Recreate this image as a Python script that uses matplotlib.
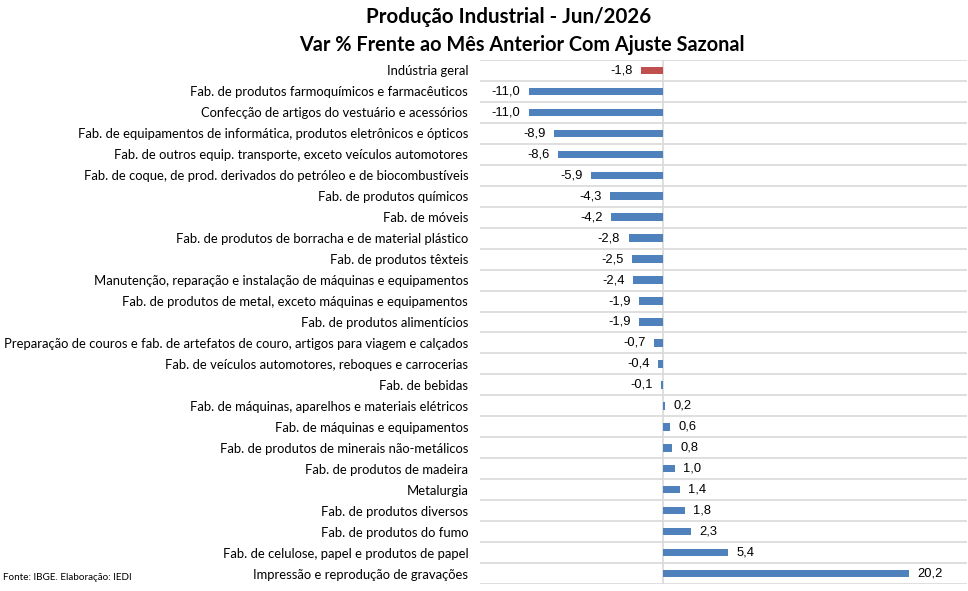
import numpy as np
import matplotlib.pyplot as plt

categorias = [
    "Indústria geral",
    "Fab. de produtos farmoquímicos e farmacêuticos",
    "Confecção de artigos do vestuário e acessórios",
    "Fab. de equipamentos de informática, produtos eletrônicos e ópticos",
    "Fab. de outros equip. transporte, exceto veículos automotores",
    "Fab. de coque, de prod. derivados do petróleo e de biocombustíveis",
    "Fab. de produtos químicos",
    "Fab. de móveis",
    "Fab. de produtos de borracha e de material plástico",
    "Fab. de produtos têxteis",
    "Manutenção, reparação e instalação de máquinas e equipamentos",
    "Fab. de produtos de metal, exceto máquinas e equipamentos",
    "Fab. de produtos alimentícios",
    "Preparação de couros e fab. de artefatos de couro, artigos para viagem e calçados",
    "Fab. de veículos automotores, reboques e carrocerias",
    "Fab. de bebidas",
    "Fab. de máquinas, aparelhos e materiais elétricos",
    "Fab. de máquinas e equipamentos",
    "Fab. de produtos de minerais não-metálicos",
    "Fab. de produtos de madeira",
    "Metalurgia",
    "Fab. de produtos diversos",
    "Fab. de produtos do fumo",
    "Fab. de celulose, papel e produtos de papel",
    "Impressão e reprodução de gravações",
]
valores = [-1.8, -11.0, -11.0, -8.9, -8.6, -5.9, -4.3, -4.2, -2.8, -2.5, -2.4,
           -1.9, -1.9, -0.7, -0.4, -0.1, 0.2, 0.6, 0.8, 1.0, 1.4, 1.8, 2.3,
           5.4, 20.2]

azul = '#4F81BD'
vermelho = '#C0504D'

fig = plt.figure(figsize=(9.68, 5.91), dpi=100)
ax = fig.add_axes([480 / 968, 1 - 584 / 591, 487 / 968, 524 / 591])

y = np.arange(len(categorias))
cores = [vermelho] + [azul] * (len(categorias) - 1)
ax.barh(y, valores, height=0.36, color=cores, zorder=3)

ax.set_xlim(-15, 25)
ax.set_ylim(len(categorias) - 0.5, -0.5)

# linhas horizontais entre as categorias
for b in np.arange(-0.5, len(categorias), 1):
    ax.axhline(b, color='#D9D9D9', linewidth=1.2, zorder=1)
ax.axvline(0, color='#D9D9D9', linewidth=1.2, zorder=2)

for s in ax.spines.values():
    s.set_visible(False)
ax.set_xticks([])
ax.set_yticks(y)
ax.set_yticklabels(categorias, family='Lato', fontsize=9.35)
ax.tick_params(axis='y', length=0, pad=8.5)

# rótulos de valores
for yi, v in zip(y, valores):
    txt = f"{v:.1f}".replace('.', ',')
    if v < 0:
        ax.annotate(txt, (v, yi), xytext=(-6, 0), textcoords='offset points',
                    ha='right', va='center', fontsize=9.3, family='Liberation Sans')
    else:
        ax.annotate(txt, (v, yi), xytext=(6, 0), textcoords='offset points',
                    ha='left', va='center', fontsize=9.3, family='Liberation Sans')

fig.text(509 / 968, 1 - 17 / 591, "Produção Industrial - Jun/2026", ha='center',
         va='center', fontsize=14.8, fontweight='bold', family='Lato')
fig.text(522 / 968, 1 - 45 / 591, "Var % Frente ao Mês Anterior Com Ajuste Sazonal",
         ha='center', va='center', fontsize=14.3, fontweight='bold', family='Lato')
fig.text(3 / 968, 1 - 578 / 591, "Fonte: IBGE. Elaboração: IEDI", ha='left',
         va='center', fontsize=7.1, family='Lato')

fig.savefig('out.png', dpi=100)
